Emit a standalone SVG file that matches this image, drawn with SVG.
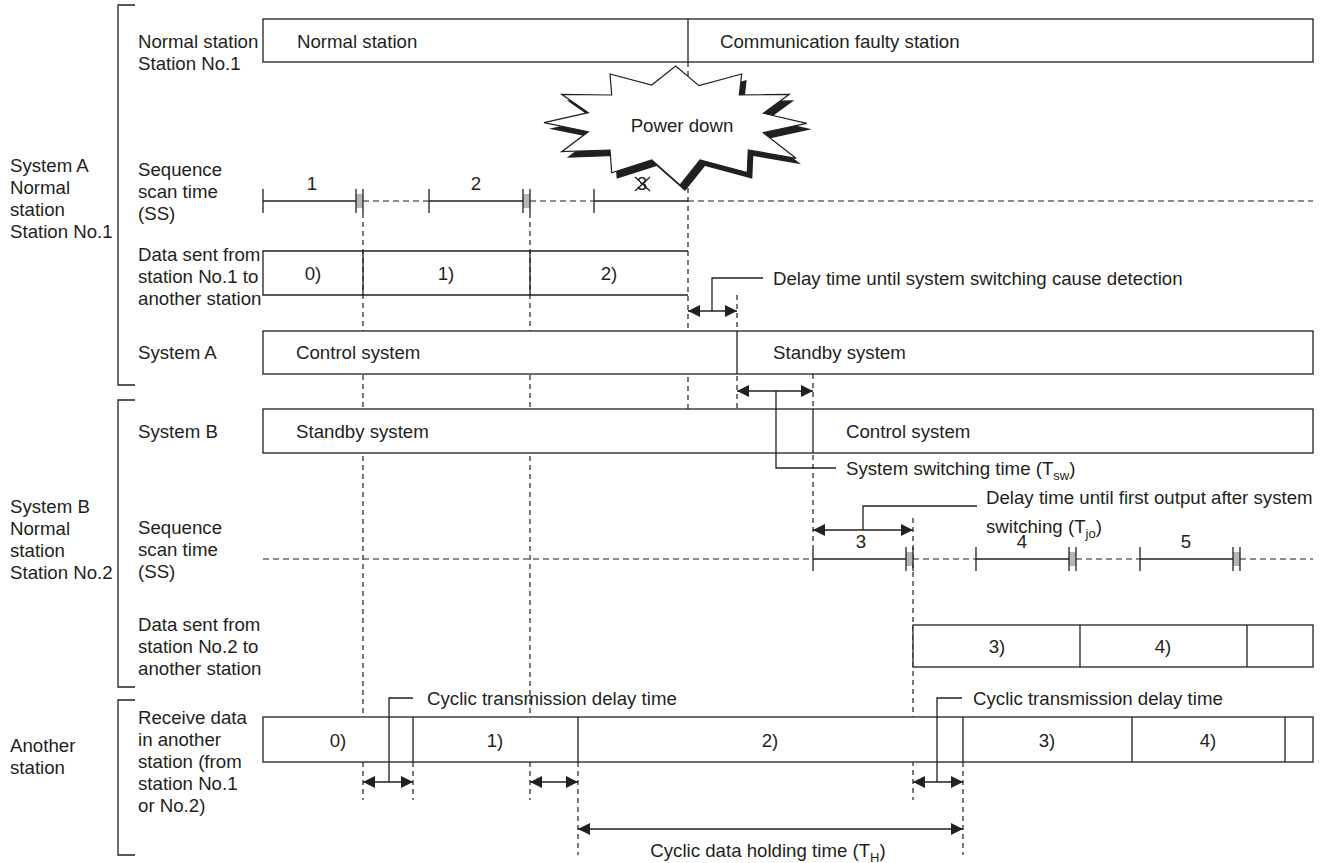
<svg xmlns="http://www.w3.org/2000/svg" width="1331" height="863" viewBox="0 0 1331 863">
<defs>
<marker id="ah" viewBox="0 0 12 12" markerWidth="12" markerHeight="12" refX="12" refY="6" orient="auto-start-reverse" markerUnits="userSpaceOnUse"><path d="M0,0 L12,6 L0,12 z" fill="#231f20"/></marker>
</defs>
<style>
text{font-family:"Liberation Sans",Arial,sans-serif;font-size:18.67px;fill:#231f20}
.box{fill:#fff;stroke:#231f20;stroke-width:1.3}
.ln{fill:none;stroke:#231f20;stroke-width:1.3}
.dv{fill:none;stroke:#231f20;stroke-width:1.2;stroke-dasharray:5 4}
.dh{fill:none;stroke:#231f20;stroke-width:1.2;stroke-dasharray:6 4}
.gb{fill:#b5b5b5;stroke:none}
.arr{fill:none;stroke:#231f20;stroke-width:1.3;marker-start:url(#ah);marker-end:url(#ah)}
.mid{text-anchor:middle}
.sub{font-size:13px}
</style>
<rect x="0" y="0" width="1331" height="863" fill="#fff"/>

<g id="guides">
<path class="dv" d="M363,213V800 M530,213V800 M688,62V409 M737,295V409 M813,374V547 M913,518V800 M413,762V800 M578,762V855 M963,762V855"/>
</g>

<g id="brackets">
<path class="ln" d="M135,5H118V385H135 M135,400H118V687H135 M135,700H118V855H135"/>
<text x="10" y="171.5">System A</text>
<text x="10" y="193.5">Normal</text>
<text x="10" y="215.5">station</text>
<text x="10" y="237.5">Station No.1</text>
<text x="10" y="512.5">System B</text>
<text x="10" y="534.5">Normal</text>
<text x="10" y="556.5">station</text>
<text x="10" y="578.5">Station No.2</text>
<text x="10" y="751.5">Another</text>
<text x="10" y="773.5">station</text>
</g>

<g id="row-normal-station">
<text x="138" y="47.5">Normal station</text>
<text x="138" y="69.5">Station No.1</text>
<rect class="box" x="263" y="19" width="1050" height="43"/>
<path class="ln" d="M688,19V62"/>
<text x="297" y="47.5">Normal station</text>
<text x="720" y="47.5">Communication faulty station</text>
</g>

<g id="row-ss1">
<text x="138" y="175.5">Sequence</text>
<text x="138" y="197.5">scan time</text>
<text x="138" y="219.5">(SS)</text>
<path class="dh" d="M363,201H429 M530,201H594 M688,201H1313"/>
<rect class="gb" x="356" y="194" width="7" height="14"/>
<rect class="gb" x="523" y="194" width="7" height="14"/>
<path class="ln" d="M263,201H356 M429,201H523 M594,201H688 M263,189V213 M356,189V213 M363,189V213 M429,189V213 M523,189V213 M530,189V213 M594,189V213"/>
<text class="mid" x="312" y="189.5">1</text>
<text class="mid" x="476" y="189.5">2</text>
</g>

<g id="row-data1">
<text x="138" y="260.5">Data sent from</text>
<text x="138" y="282.5">station No.1 to</text>
<text x="138" y="304.5">another station</text>
<path class="ln" d="M688,251H263V295H688 M363,251V295 M530,251V295"/>
<text class="mid" x="313" y="279.5">0)</text>
<text class="mid" x="446" y="279.5">1)</text>
<text class="mid" x="609" y="279.5">2)</text>
</g>

<g id="row-system-a">
<text x="138" y="358.5">System A</text>
<rect class="box" x="263" y="331" width="1050" height="43"/>
<path class="ln" d="M737,331V374"/>
<text x="296" y="358.5">Control system</text>
<text x="773" y="358.5">Standby system</text>
</g>

<g id="row-system-b">
<text x="138" y="437.5">System B</text>
<rect class="box" x="263" y="409" width="1050" height="44"/>
<path class="ln" d="M813,409V453"/>
<text x="296" y="437.5">Standby system</text>
<text x="846" y="437.5">Control system</text>
</g>

<g id="row-ss2">
<text x="138" y="533.5">Sequence</text>
<text x="138" y="555.5">scan time</text>
<text x="138" y="577.5">(SS)</text>
<path class="dh" d="M263,559H813 M913,559H976 M1076,559H1140 M1240,559H1313"/>
<rect class="gb" x="906" y="552" width="7" height="14"/>
<rect class="gb" x="1069" y="552" width="7" height="14"/>
<rect class="gb" x="1233" y="552" width="7" height="14"/>
<path class="ln" d="M813,559H906 M976,559H1069 M1140,559H1233 M813,547V571 M906,547V571 M913,547V571 M976,547V571 M1069,547V571 M1076,547V571 M1140,547V571 M1233,547V571 M1240,547V571"/>
<text class="mid" x="861" y="547.5">3</text>
<text class="mid" x="1022" y="547.5">4</text>
<text class="mid" x="1186" y="547.5">5</text>
</g>

<g id="row-data2">
<text x="138" y="630.5">Data sent from</text>
<text x="138" y="652.5">station No.2 to</text>
<text x="138" y="674.5">another station</text>
<rect class="box" x="913" y="625" width="400" height="42"/>
<path class="ln" d="M1080,625V667 M1247,625V667"/>
<text class="mid" x="997" y="652.5">3)</text>
<text class="mid" x="1163" y="652.5">4)</text>
</g>

<g id="row-receive">
<text x="138" y="723.5">Receive data</text>
<text x="138" y="745.5">in another</text>
<text x="138" y="767.5">station (from</text>
<text x="138" y="789.5">station No.1</text>
<text x="138" y="811.5">or No.2)</text>
<rect class="box" x="263" y="717" width="1050" height="45"/>
<path class="ln" d="M413,717V762 M578,717V762 M963,717V762 M1132,717V762 M1285,717V762"/>
<text class="mid" x="338" y="746.5">0)</text>
<text class="mid" x="495" y="746.5">1)</text>
<text class="mid" x="770" y="746.5">2)</text>
<text class="mid" x="1047" y="746.5">3)</text>
<text class="mid" x="1208" y="746.5">4)</text>
</g>

<g id="power-down">
<polygon transform="translate(5,6)" fill="#231f20" points="675.7,66 699,85.7 741.7,74 739.3,95 789.3,94.3 763.3,113.3 806.7,123.3 763.3,132.7 796,158.3 748.3,150 747.3,172.7 700,160 680,185 651.7,160 611.7,172.7 610,150 561.7,151.7 588.3,131.7 544,122.7 588.3,112.7 561.7,94.3 611.7,95 610,74 651.7,85"/>
<polygon fill="#fff" stroke="#231f20" stroke-width="1.2" points="675.7,66 699,85.7 741.7,74 739.3,95 789.3,94.3 763.3,113.3 806.7,123.3 763.3,132.7 796,158.3 748.3,150 747.3,172.7 700,160 680,185 651.7,160 611.7,172.7 610,150 561.7,151.7 588.3,131.7 544,122.7 588.3,112.7 561.7,94.3 611.7,95 610,74 651.7,85"/>
<text class="mid" x="682" y="131.5">Power down</text>
</g>

<g id="scan3-cancelled">
<text class="mid" x="642" y="189.5">3</text>
<path class="ln" d="M635,177L650,191 M650,177L635,191" stroke-width="1.1"/>
</g>

<g id="connectors">
<line class="arr" x1="688" y1="311" x2="737" y2="311"/>
<path class="ln" d="M712,311V278H763"/>
<text x="773" y="284.5">Delay time until system switching cause detection</text>

<line class="arr" x1="737" y1="391" x2="813" y2="391"/>
<path class="ln" d="M776,391V468H836"/>
<text x="846" y="474.5">System switching time (T<tspan class="sub" dy="5">sw</tspan><tspan dy="-5">)</tspan></text>

<line class="arr" x1="813" y1="530" x2="913" y2="530"/>
<path class="ln" d="M863,530V506H977"/>
<text x="986" y="503.5">Delay time until first output after system</text>
<text x="986" y="532.5">switching (T<tspan class="sub" dy="5">jo</tspan><tspan dy="-5">)</tspan></text>

<line class="arr" x1="363" y1="782" x2="413" y2="782"/>
<line class="arr" x1="530" y1="782" x2="578" y2="782"/>
<line class="arr" x1="913" y1="782" x2="963" y2="782"/>
<path class="ln" d="M389,782V698H413"/>
<text x="427" y="704.5">Cyclic transmission delay time</text>
<path class="ln" d="M937,782V698H962"/>
<text x="973" y="704.5">Cyclic transmission delay time</text>

<line class="arr" x1="578" y1="829" x2="963" y2="829"/>
<text class="mid" x="768" y="857">Cyclic data holding time (T<tspan class="sub" dy="5">H</tspan><tspan dy="-5">)</tspan></text>
</g>
</svg>
